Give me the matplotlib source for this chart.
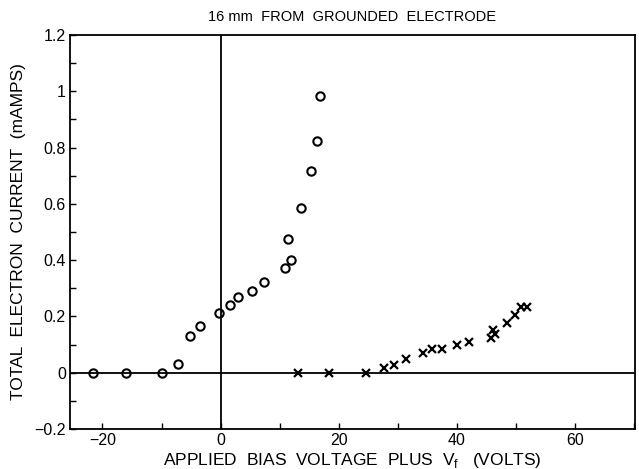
import matplotlib
matplotlib.use("Agg")
import matplotlib.pyplot as plt
from matplotlib.ticker import MultipleLocator, FuncFormatter

# Data
circle_x = [-21.6, -16.0, -10.0, -7.2, -5.2, -3.5, -0.3, 1.6, 2.9, 5.4, 7.3,
            10.9, 11.5, 12.0, 13.6, 15.4, 16.3, 16.9]
circle_y = [0.0, 0.0, 0.0, 0.031, 0.132, 0.165, 0.213, 0.239, 0.268, 0.292, 0.324,
            0.373, 0.476, 0.399, 0.587, 0.717, 0.824, 0.985]

cross_x = [13.2, 18.4, 24.6, 27.7, 29.4, 31.4, 34.3, 35.9, 37.5, 40.0, 42.1,
           45.8, 46.2, 46.5, 48.5, 49.9, 50.9, 51.9]
cross_y = [0.0, 0.0, 0.0, 0.017, 0.028, 0.049, 0.069, 0.084, 0.083, 0.098, 0.110,
           0.123, 0.151, 0.137, 0.178, 0.205, 0.233, 0.233]

title = "16 mm  FROM  GROUNDED  ELECTRODE"
xlabel = "APPLIED  BIAS  VOLTAGE  PLUS  V$_\\mathregular{f}$   (VOLTS)"
ylabel = "TOTAL  ELECTRON  CURRENT  (mAMPS)"

plt.rcParams['font.family'] = ['Liberation Sans', 'DejaVu Sans']

fig = plt.figure(figsize=(6.39, 4.69), dpi=100)
ax = fig.add_axes([70/639, 1-429/469, (635-70)/639, (429-35)/469])

ax.axhline(0, color='black', lw=1.3, zorder=1)
ax.axvline(0, color='black', lw=1.3, zorder=1)

ax.plot(circle_x, circle_y, linestyle='none', marker='o', markersize=6,
        markerfacecolor='none', markeredgecolor='black', markeredgewidth=1.5, zorder=3)
ax.plot(cross_x, cross_y, linestyle='none', marker='x', markersize=6,
        color='black', markeredgewidth=1.6, zorder=3)

ax.set_xlim(-25.5, 70.2)
ax.set_ylim(-0.2, 1.2)

ax.xaxis.set_major_locator(MultipleLocator(20))
ax.xaxis.set_minor_locator(MultipleLocator(10))
ax.yaxis.set_major_locator(MultipleLocator(0.2))
ax.yaxis.set_minor_locator(MultipleLocator(0.1))

def yfmt(v, pos):
    if abs(v) < 1e-9:
        return "0"
    s = ("%.1f" % v).replace("-", "\u2212")
    if s.endswith(".0"):
        s = s[:-2]
    return s

def xfmt(v, pos):
    return ("%d" % round(v)).replace("-", "\u2212")

ax.yaxis.set_major_formatter(FuncFormatter(yfmt))
ax.xaxis.set_major_formatter(FuncFormatter(xfmt))

ax.tick_params(axis='both', which='both', direction='in', top=False, right=False,
               width=1.0, labelsize=11.5)
ax.tick_params(axis='both', which='major', length=4, pad=3)
ax.tick_params(axis='both', which='minor', length=4)

for sp in ax.spines.values():
    sp.set_linewidth(1.3)

ax.set_title(title, fontsize=10.5, pad=10)
ax.set_xlabel(xlabel, fontsize=12.5, labelpad=2)
ax.set_ylabel(ylabel, fontsize=12.5, labelpad=6)

fig.savefig("out.png", dpi=100)
